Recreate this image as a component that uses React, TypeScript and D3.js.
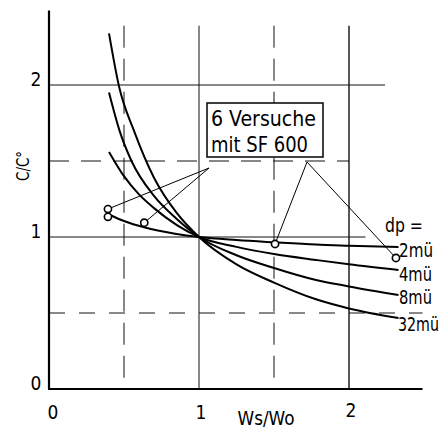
import * as d3 from "d3";
import { useRef, useEffect } from "react";

// values: C/C° against Ws/Wo for each particle size dp
const xTicks = [0, 1, 2];
const yTicks = [0, 1, 2];
const dpLabels = ["2mü", "4mü", "8mü", "32mü"];

const ws2 = [0.407, 0.5, 0.64, 0.84, 1, 1.25, 1.5, 1.78, 2.0, 2.33];
const c2 = [1.145, 1.105, 1.062, 1.022, 1, 0.98, 0.965, 0.95, 0.943, 0.934];

const ws4 = [0.4, 0.5, 0.6, 0.7, 0.85, 1, 1.25, 1.5, 1.78, 2.0, 2.33];
const c4 = [1.56, 1.4, 1.28, 1.19, 1.08, 1, 0.935, 0.888, 0.849, 0.82, 0.783];

const ws8 = [0.4, 0.47, 0.55, 0.7, 0.85, 1, 1.25, 1.5, 1.78, 2.0, 2.33];
const c8 = [1.95, 1.7, 1.5, 1.27, 1.12, 1, 0.88, 0.796, 0.717, 0.675, 0.618];

const ws32 = [0.4, 0.467, 0.57, 0.7, 0.85, 1, 1.25, 1.5, 1.78, 2.0, 2.33];
const c32 = [2.34, 1.99, 1.69, 1.39, 1.16, 1, 0.82, 0.7, 0.59, 0.53, 0.467];

// the six tests with SF 600
const testWs = [0.393, 0.393, 0.635, 1.507, 2.313];
const testC = [1.184, 1.133, 1.094, 0.954, 0.862];
const boxLines = ["6 Versuche", "mit SF 600"];

const width = 446;
const height = 430;
const font = "'DejaVu Sans Condensed', 'Liberation Sans Narrow', 'DejaVu Sans', sans-serif";

const App = () => {
  const chartRef = useRef(null);

  useEffect(() => {
    if (!chartRef.current) return;
    const svg = d3.select(chartRef.current);
    svg.selectAll("*").remove();

    const x = d3.scaleLinear().domain([0, 2.5]).range([49, 424]);
    const y = d3.scaleLinear().domain([0, 2.5]).range([389, 9]);

    const grid = svg.append("g").attr("stroke", "#111").attr("fill", "none");

    // vertical grid lines
    const vLines = [
      { v: 0.5, dash: "22,11" },
      { v: 1, dash: null },
      { v: 1.5, dash: "22,11" },
      { v: 2, dash: null },
    ];
    vLines.forEach((l) => {
      grid.append("line")
        .attr("x1", x(l.v)).attr("x2", x(l.v))
        .attr("y1", y(2.39)).attr("y2", y(0))
        .attr("stroke-width", l.v === 2 ? 1.4 : 1)
        .attr("stroke-dasharray", l.dash);
    });

    // horizontal grid lines
    const hLines = [
      { v: 0.5, end: 2.49, dash: "16,14" },
      { v: 1, end: 2.11, dash: null },
      { v: 1.5, end: 2.0, dash: "20,12" },
      { v: 2, end: 2.24, dash: null },
    ];
    hLines.forEach((l) => {
      grid.append("line")
        .attr("x1", x(0)).attr("x2", x(l.end))
        .attr("y1", y(l.v)).attr("y2", y(l.v))
        .attr("stroke-width", 1)
        .attr("stroke-dasharray", l.dash);
    });

    // axes
    svg.append("line")
      .attr("x1", x(0)).attr("x2", x(0))
      .attr("y1", y(2.49)).attr("y2", y(0))
      .attr("stroke", "#000").attr("stroke-width", 2.2);
    svg.append("line")
      .attr("x1", x(0) - 1).attr("x2", x(2.49))
      .attr("y1", y(0)).attr("y2", y(0))
      .attr("stroke", "#000").attr("stroke-width", 2.2);

    // tick labels
    svg.append("g").selectAll("text")
      .data(yTicks).enter().append("text")
      .attr("x", 36).attr("y", (d) => y(d) + 1)
      .attr("text-anchor", "middle")
      .attr("font-family", font).attr("font-size", 19)
      .text((d) => d);
    svg.append("g").selectAll("text")
      .data(xTicks).enter().append("text")
      .attr("x", (d) => x(d) + (d === 0 ? 4 : 2))
      .attr("y", (d) => (d === 2 ? 417 : 419))
      .attr("text-anchor", "middle")
      .attr("font-family", font).attr("font-size", 19)
      .text((d) => d);

    // axis titles
    svg.append("text")
      .attr("x", 266).attr("y", 425)
      .attr("text-anchor", "middle")
      .attr("font-family", font).attr("font-size", 19)
      .attr("textLength", 57).attr("lengthAdjust", "spacingAndGlyphs")
      .text("Ws/Wo");
    svg.append("text")
      .attr("transform", "translate(29,166) rotate(-90)")
      .attr("text-anchor", "middle")
      .attr("font-family", font).attr("font-size", 18)
      .attr("textLength", 30).attr("lengthAdjust", "spacingAndGlyphs")
      .text("C/C°");

    // dp curves
    const series = [
      { ws: ws2, c: c2 },
      { ws: ws4, c: c4 },
      { ws: ws8, c: c8 },
      { ws: ws32, c: c32 },
    ];
    const line = d3.line()
      .x((d) => x(d[0]))
      .y((d) => y(d[1]))
      .curve(d3.curveMonotoneX);
    svg.append("g").selectAll("path")
      .data(series).enter().append("path")
      .attr("d", (s) => line(s.ws.map((w, i) => [w, s.c[i]])))
      .attr("fill", "none")
      .attr("stroke", "#000")
      .attr("stroke-width", 2);

    // curve labels
    const labelBase = [257, 281, 304, 331];
    const labelLen = [34, 33, 33, 41];
    svg.append("g").selectAll("text")
      .data(dpLabels).enter().append("text")
      .attr("x", (d, i) => (i === 3 ? 398 : 399)).attr("y", (d, i) => labelBase[i])
      .attr("font-family", font).attr("font-size", 19)
      .attr("textLength", (d, i) => labelLen[i]).attr("lengthAdjust", "spacingAndGlyphs")
      .text((d) => d);
    svg.append("text")
      .attr("x", 385).attr("y", 232)
      .attr("font-family", font).attr("font-size", 19)
      .attr("textLength", 38).attr("lengthAdjust", "spacingAndGlyphs")
      .text("dp =");

    // leader lines from the note box to the tests
    const leftAnchor = [209, 168];
    const rightAnchor = [307, 162];
    const leaders = [
      [leftAnchor, 0],
      [leftAnchor, 2],
      [rightAnchor, 3],
      [rightAnchor, 4],
    ];
    svg.append("g").selectAll("line")
      .data(leaders).enter().append("line")
      .attr("x1", (d) => d[0][0]).attr("y1", (d) => d[0][1])
      .attr("x2", (d) => x(testWs[d[1]])).attr("y2", (d) => y(testC[d[1]]))
      .attr("stroke", "#000").attr("stroke-width", 1);

    // test points
    svg.append("g").selectAll("circle")
      .data(testWs).enter().append("circle")
      .attr("cx", (d) => x(d)).attr("cy", (d, i) => y(testC[i]))
      .attr("r", 3.6)
      .attr("fill", "#fff").attr("stroke", "#000").attr("stroke-width", 1.6);

    // note box
    svg.append("rect")
      .attr("x", 207).attr("y", 103).attr("width", 116).attr("height", 54)
      .attr("fill", "#fff").attr("stroke", "#000").attr("stroke-width", 1.5);
    const boxLen = [105, 97];
    svg.append("g").selectAll("text")
      .data(boxLines).enter().append("text")
      .attr("x", 211).attr("y", (d, i) => 126 + i * 26)
      .attr("font-family", font).attr("font-size", 21)
      .attr("textLength", (d, i) => boxLen[i]).attr("lengthAdjust", "spacingAndGlyphs")
      .text((d) => d);
  }, []);

  return (
    <svg
      ref={chartRef}
      width={width}
      height={height}
      style={{ position: "absolute", left: 0, top: 0, background: "#fff" }}
    />
  );
};

export default App;
